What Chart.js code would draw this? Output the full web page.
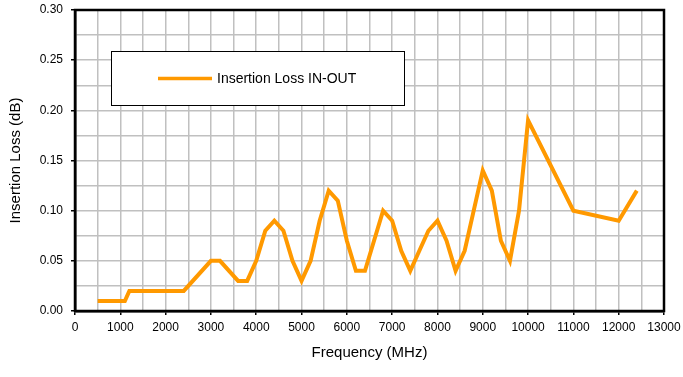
<!DOCTYPE html>
<html>
<head>
<meta charset="utf-8">
<script src="https://cdn.jsdelivr.net/npm/chart.js@4.4.1/dist/chart.umd.min.js"></script>
<style>
  html, body { margin: 0; padding: 0; background: #fff; }
  #wrap { width: 683px; height: 377px; }
</style>
</head>
<body>
<div id="wrap"><canvas id="chart" width="683" height="377"></canvas></div>
<script>
// frequency (MHz) and insertion loss (dB)
var freqs = [500, 1100, 1200, 2400, 3000, 3200, 3600, 3800, 4000, 4200, 4400, 4600, 4800, 5000,
             5200, 5400, 5600, 5800, 6000, 6200, 6400, 6600, 6800, 7000, 7200, 7400, 7600, 7800,
             8000, 8200, 8400, 8600, 8800, 9000, 9200, 9400, 9600, 9800, 10000, 11000, 12000, 12400];
var loss = [0.01, 0.01, 0.02, 0.02, 0.05, 0.05, 0.03, 0.03, 0.05, 0.08, 0.09, 0.08, 0.05, 0.03,
            0.05, 0.09, 0.12, 0.11, 0.07, 0.04, 0.04, 0.07, 0.10, 0.09, 0.06, 0.04, 0.06, 0.08,
            0.09, 0.07, 0.04, 0.06, 0.10, 0.14, 0.12, 0.07, 0.05, 0.10, 0.19, 0.10, 0.09, 0.12];
var seriesName = 'Insertion Loss IN-OUT';
var xLimits = [0, 13000];
var yLimits = [0, 0.30];

var points = freqs.map(function (f, i) { return { x: f, y: loss[i] }; });

// black frame round the plot area + the boxed legend inside it
var framePlugin = {
  id: 'frame',
  afterDraw: function (chart) {
    var ctx = chart.ctx, a = chart.chartArea;
    ctx.save();
    ctx.strokeStyle = '#000';
    ctx.lineWidth = 2.5;
    ctx.strokeRect(a.left, a.top, a.right - a.left, a.bottom - a.top);

    // legend box
    var ds = chart.data.datasets[0];
    ctx.fillStyle = '#fff';
    ctx.fillRect(111.5, 51.5, 293, 54);
    ctx.lineWidth = 1;
    ctx.strokeStyle = '#000';
    ctx.strokeRect(111.5, 51.5, 293, 54);
    ctx.strokeStyle = ds.borderColor;
    ctx.lineWidth = 3.5;
    ctx.beginPath();
    ctx.moveTo(158, 78.5);
    ctx.lineTo(212, 78.5);
    ctx.stroke();
    ctx.fillStyle = '#000';
    ctx.font = '14px "Liberation Sans", Arial, sans-serif';
    ctx.textBaseline = 'middle';
    ctx.fillText(ds.label, 217, 79);
    ctx.restore();
  }
};

function isMajor(v, step) {
  return Math.abs(v / step - Math.round(v / step)) < 1e-6;
}

Chart.defaults.font.family = '"Liberation Sans", Arial, sans-serif';
Chart.defaults.color = '#000';

new Chart(document.getElementById('chart'), {
  type: 'line',
  data: {
    datasets: [{
      label: seriesName,
      data: points,
      borderColor: '#ff9900',
      borderWidth: 4,
      pointRadius: 0,
      tension: 0,
      fill: false
    }]
  },
  options: {
    responsive: false,
    animation: false,
    layout: { padding: { left: 0, top: 10, right: 19, bottom: 0 } },
    plugins: { legend: { display: false }, tooltip: { enabled: false } },
    scales: {
      x: {
        type: 'linear',
        min: xLimits[0],
        max: xLimits[1],
        afterFit: function (s) { s.height = 66; s.paddingLeft = 0; s.paddingRight = 0; },
        ticks: {
          stepSize: 500,
          autoSkip: false,
          maxRotation: 0,
          padding: 5,
          font: { size: 12 },
          callback: function (v) { return isMajor(v, 1000) ? String(v) : ''; }
        },
        grid: {
          color: '#c0c0c0',
          lineWidth: 1.5,
          tickLength: 4,
          tickColor: function (c) { return c.tick && isMajor(c.tick.value, 1000) ? '#000' : 'rgba(0,0,0,0)'; }
        },
        border: { color: '#000', width: 2.5 },
        title: {
          display: true,
          text: 'Frequency (MHz)',
          font: { size: 15 },
          padding: { top: 0, bottom: 15 }
        }
      },
      y: {
        min: yLimits[0],
        max: yLimits[1],
        afterFit: function (s) { s.width = 75; s.paddingTop = 0; s.paddingBottom = 0; },
        ticks: {
          stepSize: 0.025,
          autoSkip: false,
          padding: 8,
          font: { size: 12 },
          callback: function (v) { return isMajor(v, 0.05) ? v.toFixed(2) : ''; }
        },
        grid: {
          color: '#c0c0c0',
          lineWidth: 1.5,
          tickLength: 4,
          tickColor: function (c) { return c.tick && isMajor(c.tick.value, 0.05) ? '#000' : 'rgba(0,0,0,0)'; }
        },
        border: { color: '#000', width: 2.5 },
        title: {
          display: true,
          text: 'Insertion Loss (dB)',
          font: { size: 15 },
          padding: { top: 7, bottom: 0 }
        }
      }
    }
  },
  plugins: [framePlugin]
});
</script>
</body>
</html>
